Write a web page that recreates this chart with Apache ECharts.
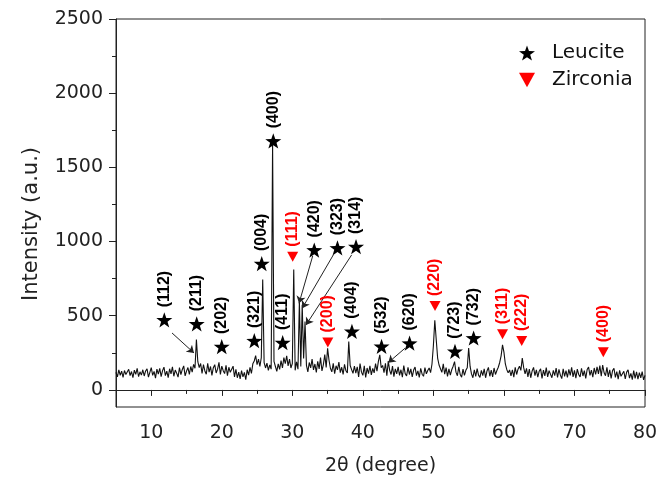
<!DOCTYPE html>
<html>
<head>
<meta charset="utf-8">
<script src="https://cdn.jsdelivr.net/npm/echarts@6/dist/echarts.min.js"></script>
<style>
html,body{margin:0;padding:0;background:#fff;}
#chart{width:666px;height:477px;}
</style>
</head>
<body>
<div id="chart"></div>
<script>
// ---- Data ----
const START_2THETA = 5.0;
const STEP_2THETA = 0.2;
// intensity sampled every 0.2 degree from 5.0 to 80.0
const intensity = [
  118, 88, 135, 99, 126, 84, 131, 104, 92, 139,
  97, 124, 83, 133, 105, 145, 90, 122, 100, 136,
  94, 128, 142, 86, 118, 150, 98, 125, 80, 140,
  106, 146, 90, 130, 154, 97, 126, 83, 143, 108,
  156, 92, 134, 113, 86, 150, 103, 138, 162, 95,
  127, 151, 104, 158, 120, 172, 146, 340, 190, 150,
  178, 112, 170, 128, 106, 180, 120, 158, 98, 150,
  170, 114, 140, 186, 104, 160, 130, 110, 166, 96,
  153, 119, 106, 160, 88, 138, 82, 120, 74, 130,
  88, 118, 70, 136, 100, 152, 112, 176, 195, 232,
  170, 208, 158, 218, 745, 184, 148, 180, 132, 168,
  140, 1660, 192, 158, 125, 175, 138, 198, 148, 218,
  178, 230, 162, 208, 148, 178, 811, 132, 190, 140,
  597, 158, 574, 212, 461, 166, 122, 185, 148, 208,
  135, 175, 118, 193, 142, 218, 128, 171, 238, 152,
  281, 200, 146, 122, 179, 109, 163, 135, 188, 117,
  153, 105, 173, 129, 115, 326, 165, 137, 112, 161,
  114, 156, 88, 178, 120, 98, 162, 84, 148, 110,
  163, 102, 145, 115, 178, 127, 193, 236, 150, 165,
  116, 180, 96, 194, 132, 104, 160, 90, 142, 108,
  156, 98, 136, 86, 164, 110, 94, 152, 104, 142,
  88, 134, 154, 96, 128, 84, 146, 106, 92, 150,
  109, 131, 148, 117, 175, 300, 470, 340, 215, 168,
  158, 118, 176, 106, 150, 92, 142, 100, 136, 160,
  191, 120, 96, 156, 104, 86, 140, 98, 132, 150,
  283, 160, 108, 82, 136, 92, 144, 100, 84, 132,
  96, 142, 82, 128, 152, 92, 134, 88, 148, 104,
  131, 153, 185, 230, 304, 255, 175, 138, 115, 135,
  94, 136, 86, 152, 104, 140, 160, 132, 214, 150,
  108, 146, 88, 140, 82, 128, 152, 96, 136, 86,
  126, 142, 78, 134, 94, 150, 88, 130, 140, 82,
  132, 96, 148, 84, 138, 100, 76, 142, 92, 130,
  84, 138, 98, 152, 88, 132, 80, 140, 104, 88,
  146, 94, 130, 78, 138, 154, 98, 134, 86, 148,
  104, 156, 108, 164, 92, 168, 116, 96, 152, 88,
  136, 78, 130, 146, 84, 124, 72, 132, 92, 82,
  126, 74, 120, 136, 80, 112, 70, 130, 78, 122,
  72, 116, 82, 124, 68, 98
];

// Leucite peak markers
const leuciteLabels = ['(112)','(211)','(202)','(321)','(004)','(400)','(411)','(420)','(323)','(314)','(404)','(532)','(620)','(723)','(732)'];
const leucite2Theta = [11.85, 16.44, 19.99, 24.61, 25.66, 27.30, 28.63, 33.11, 36.40, 39.03, 38.45, 42.65, 46.62, 53.06, 55.70];
const leuciteY      = [472, 445, 292, 332, 851, 1678, 319, 943, 957, 966, 395, 294, 315, 260, 350];

// Zirconia peak markers
const zirconiaLabels = ['(111)','(200)','(220)','(311)','(222)','(400)'];
const zirconia2Theta = [30.05, 35.03, 50.23, 59.80, 62.52, 74.09];
const zirconiaY      = [898, 320, 566, 376, 330, 254];

// Arrows from markers to peaks: [from2Theta, fromY, to2Theta, toY]
const arrows = [
  [12.94, 384, 16.06, 249],
  [32.89, 903, 30.95, 584],
  [35.81, 910, 31.41, 551],
  [38.41, 910, 31.94, 438],
  [45.97, 281, 43.60, 184]
];

// Axis ticks
const xMajorTicks = [10, 20, 30, 40, 50, 60, 70, 80];
const xMinorTicks = [15, 25, 35, 45, 55, 65, 75];
const yMajorTicks = [0, 500, 1000, 1500, 2000, 2500];
const yMinorTicks = [250, 750, 1250, 1750, 2250];

// ---- Build chart ----
const linePts = intensity.map((v, i) => [+(START_2THETA + i * STEP_2THETA).toFixed(1), v]);
const STAR = 'path://M0,-10 L2.35,-3.24 L9.51,-3.09 L3.8,1.24 L5.88,8.09 L0,4 L-5.88,8.09 L-3.8,1.24 L-9.51,-3.09 L-2.35,-3.24 Z';
const TRI_DOWN = 'path://M0,0 L10,0 L5,9 Z';
const FONT = '"DejaVu Sans", Arial, sans-serif';
const LABEL_FONT = '"Liberation Sans", Arial, sans-serif';

const chart = echarts.init(document.getElementById('chart'), null, {renderer: 'canvas'});
const axisLineStyle = {color: '#222', width: 1};
const plain = v => String(v);

chart.setOption({
  animation: false,
  backgroundColor: '#fff',
  grid: {left: 116, right: 21, top: 19, bottom: 70, show: true, borderColor: '#222', borderWidth: 1,
         backgroundColor: 'transparent', containLabel: false, outerBoundsMode: 'none'},
  legend: {
    orient: 'vertical', left: 514, top: 38, itemGap: 7,
    itemWidth: 16, itemHeight: 16,
    data: [
      {name: 'Leucite', icon: STAR, itemStyle: {color: '#000', opacity: 1}},
      {name: 'Zirconia', icon: TRI_DOWN, itemStyle: {color: '#f00', opacity: 1}}
    ],
    textStyle: {fontFamily: FONT, fontSize: 20, color: '#111', lineHeight: 20, padding: [0, 0, 0, 12]}
  },
  xAxis: [{
    type: 'value', min: 5, max: 80, gridIndex: 0,
    name: '2θ (degree)', nameLocation: 'middle', nameGap: 50,
    nameTextStyle: {fontFamily: FONT, fontSize: 19, color: '#222'},
    axisLine: {show: true, lineStyle: axisLineStyle},
    axisTick: {show: true, length: 6, customValues: xMajorTicks, lineStyle: axisLineStyle},
    axisLabel: {show: true, customValues: xMajorTicks, formatter: plain, margin: 17, fontFamily: FONT, fontSize: 19, color: '#222'},
    splitLine: {show: false}
  }, {
    type: 'value', min: 5, max: 80, gridIndex: 0, position: 'bottom',
    axisLine: {show: false},
    axisTick: {show: true, length: 4, customValues: xMinorTicks, lineStyle: axisLineStyle},
    axisLabel: {show: false},
    splitLine: {show: false}
  }],
  yAxis: [{
    type: 'value', min: -115, max: 2500,
    name: 'Intensity (a.u.)', nameLocation: 'middle', nameGap: 74,
    nameTextStyle: {fontFamily: FONT, fontSize: 21, color: '#222', padding: [0, 22, 0, 0]},
    axisLine: {show: true, lineStyle: axisLineStyle},
    axisTick: {show: true, length: 7, customValues: yMajorTicks, lineStyle: axisLineStyle},
    axisLabel: {show: true, customValues: yMajorTicks, formatter: plain, margin: 13, fontFamily: FONT, fontSize: 19, color: '#222'},
    splitLine: {show: false}
  }, {
    type: 'value', min: -115, max: 2500, position: 'left',
    axisLine: {show: false},
    axisTick: {show: true, length: 4, customValues: yMinorTicks, lineStyle: axisLineStyle},
    axisLabel: {show: false},
    splitLine: {show: false}
  }],
  series: [
    {
      name: 'XRD', type: 'line', data: linePts, showSymbol: false, symbol: 'none',
      lineStyle: {color: '#111', width: 1.1}, z: 2, silent: true
    },
    {
      name: 'arrows', type: 'lines', coordinateSystem: 'cartesian2d', z: 3,
      symbol: ['none', 'arrow'], symbolSize: 7,
      lineStyle: {color: '#222', width: 1, opacity: 1},
      data: arrows.map(a => ({coords: [[a[0], a[1]], [a[2], a[3]]]}))
    },
    {
      name: 'Leucite', type: 'scatter', symbol: STAR, symbolSize: 16, symbolKeepAspect: true, z: 4,
      itemStyle: {color: '#000', opacity: 1},
      data: leucite2Theta.map((x, i) => ({name: leuciteLabels[i], value: [x, leuciteY[i]]})),
      label: {show: true, formatter: '{b}', position: 'top', distance: 5, rotate: 90, align: 'left', verticalAlign: 'middle',
              fontFamily: LABEL_FONT, fontWeight: 'bold', fontSize: 16, color: '#000', opacity: 1}
    },
    {
      name: 'Zirconia', type: 'scatter', symbol: TRI_DOWN, symbolSize: [11, 10], z: 4,
      itemStyle: {color: '#f00', opacity: 1},
      data: zirconia2Theta.map((x, i) => ({name: zirconiaLabels[i], value: [x, zirconiaY[i]]})),
      label: {show: true, formatter: '{b}', position: 'top', distance: 5, rotate: 90, align: 'left', verticalAlign: 'middle',
              fontFamily: LABEL_FONT, fontWeight: 'bold', fontSize: 16, color: '#f00', opacity: 1}
    }
  ]
});
</script>
</body>
</html>
